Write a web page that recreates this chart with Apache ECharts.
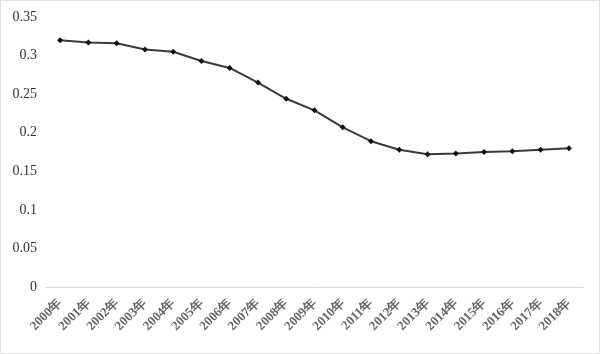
<!DOCTYPE html>
<html><head><meta charset="utf-8">
<script src="https://cdn.jsdelivr.net/npm/echarts@6/dist/echarts.min.js"></script>
<style>html,body{margin:0;padding:0;background:#fff}#c{width:598px;height:352px;border:1px solid #e2e2e2;}</style>
</head><body><div id="c"></div>
<script>
var categories = ['2000年','2001年','2002年','2003年','2004年','2005年','2006年','2007年','2008年','2009年','2010年','2011年','2012年','2013年','2014年','2015年','2016年','2017年','2018年'];
var values = [0.320,0.317,0.316,0.308,0.305,0.293,0.284,0.265,0.244,0.229,0.207,0.189,0.178,0.172,0.173,0.175,0.176,0.178,0.180];
var yTicks = [0,0.05,0.1,0.15,0.2,0.25,0.3,0.35];
var chart = echarts.init(document.getElementById('c'));
chart.setOption({
  animation:false,
  grid:{left:45,right:16,top:16,bottom:66},
  xAxis:{type:'category',data:categories,boundaryGap:true,
    axisLine:{lineStyle:{color:'#d9d9d9',width:1}},axisTick:{show:false},
    axisLabel:{rotate:45,interval:0,margin:14,color:'#666',fontFamily:'Liberation Serif',fontSize:13,fontWeight:'bold'}},
  yAxis:{type:'value',min:0,max:0.35,interval:0.05,
    axisLine:{show:false},axisTick:{show:false},splitLine:{show:false},
    axisLabel:{color:'#333',fontFamily:'Liberation Serif',fontSize:14,margin:9,
      formatter:function(v){var t=yTicks.find(function(x){return Math.abs(x-v)<1e-9;});return t===undefined?'':String(t);}}},
  series:[{type:'line',data:values,symbol:'diamond',symbolSize:6,
    lineStyle:{color:'#3a3a3a',width:2},itemStyle:{color:'#111'}}]
});
</script></body></html>
